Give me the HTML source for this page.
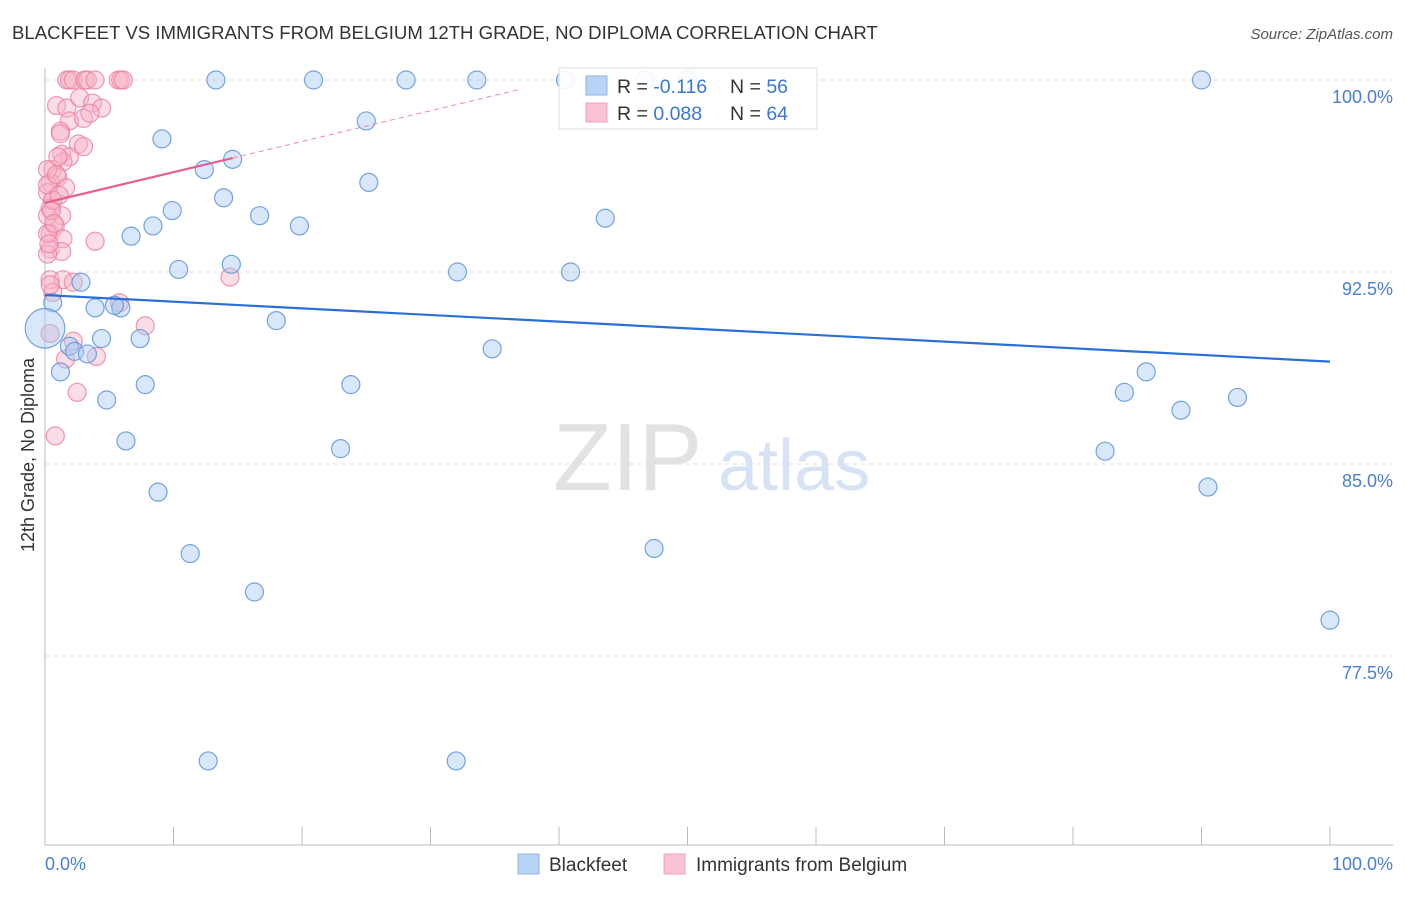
<!DOCTYPE html>
<html><head><meta charset="utf-8"><style>
body{margin:0;background:#fff;font-family:"Liberation Sans",sans-serif;}
svg text{font-family:"Liberation Sans",sans-serif;}
</style></head><body>
<svg id="chart" width="1406" height="892" viewBox="0 0 1406 892" xmlns="http://www.w3.org/2000/svg">
<text x="12" y="39" font-size="18.6" fill="#333">BLACKFEET VS IMMIGRANTS FROM BELGIUM 12TH GRADE, NO DIPLOMA CORRELATION CHART</text>
<text x="1393" y="39" font-size="15" fill="#555" text-anchor="end" font-style="italic">Source: ZipAtlas.com</text>
<g>
<text x="553" y="490" font-family="Liberation Serif" font-size="96" fill="#e2e2e2">ZIP</text>
<text x="718" y="490" font-size="72" fill="#d6e3f5">atlas</text>
</g>
<g id="grid"></g>
<g id="axes">
<line x1="45" y1="68" x2="45" y2="845" stroke="#bbb" stroke-width="1"/>
<line x1="45" y1="845" x2="1393" y2="845" stroke="#bbb" stroke-width="1"/>
</g>
<g id="ticks"></g>
<g id="ylabels"></g>
<text x="45" y="870" font-size="18" fill="#4a7fd4">0.0%</text>
<text x="1393" y="870" font-size="18" fill="#4a7fd4" text-anchor="end">100.0%</text>
<text transform="translate(34,455) rotate(-90)" font-size="18" fill="#333" text-anchor="middle">12th Grade, No Diploma</text>
<g id="pinkpts"></g>
<g id="bluepts"></g>
<g id="trends"></g>
<g>
<rect x="559" y="68" width="258" height="61" fill="#fff" fill-opacity="0.9" stroke="#ddd"/>
<rect x="586" y="76" width="21" height="19" fill="#b9d3f5" stroke="#8fb3e6"/>
<text x="617" y="93" font-size="19.5" fill="#333">R = <tspan fill="#3a78d0">-0.116</tspan></text>
<text x="730" y="93" font-size="19.5" fill="#333">N = <tspan fill="#3a78d0">56</tspan></text>
<rect x="586" y="103" width="21" height="19" fill="#fac3d3" stroke="#f0a0b8"/>
<text x="617" y="120" font-size="19.5" fill="#333">R = <tspan fill="#3a78d0">0.088</tspan></text>
<text x="730" y="120" font-size="19.5" fill="#333">N = <tspan fill="#3a78d0">64</tspan></text>
</g>
<g>
<rect x="518" y="854" width="21" height="20" fill="#b9d3f5" stroke="#8fb3e6"/>
<text x="549" y="871" font-size="19" fill="#333">Blackfeet</text>
<rect x="664" y="854" width="21" height="20" fill="#fac3d3" stroke="#f0a0b8"/>
<text x="696" y="871" font-size="19" fill="#333">Immigrants from Belgium</text>
</g>
</svg>
<script>
const yTicks=[100,92.5,85,77.5];
const yTickLabels=["100.0%","92.5%","85.0%","77.5%"];
const xTicks=[0,10,20,30,40,50,60,70,80,90,100];
const blueX=[13.3,20.9,28.1,33.6,40.5,46.7,50.0,90.0,9.1,25.0,12.4,14.6,25.2,13.9,9.9,16.7,43.6,8.4,6.7,19.8,10.4,14.5,32.1,40.9,2.8,0.6,3.9,5.9,5.4,18.0,4.4,7.4,0.0,1.9,2.3,3.3,34.8,1.2,7.8,23.8,85.7,84.0,88.4,92.8,4.8,6.3,23.0,82.5,8.8,90.5,11.3,47.4,16.3,100,12.7,32.0];
const blueY=[100,100,100,100,100,100,100,100,97.7,98.4,96.5,96.9,96.0,95.4,94.9,94.7,94.6,94.3,93.9,94.3,92.6,92.8,92.5,92.5,92.1,91.3,91.1,91.1,91.2,90.6,89.9,89.9,90.3,89.6,89.4,89.3,89.5,88.6,88.1,88.1,88.6,87.8,87.1,87.6,87.5,85.9,85.6,85.5,83.9,84.1,81.5,81.7,80.0,78.9,73.4,73.4];
const blueSize=[1,1,1,1,1,1,1,1,1,1,1,1,1,1,1,1,1,1,1,1,1,1,1,1,1,1,1,1,1,1,1,1,2.2,1,1,1,1,1,1,1,1,1,1,1,1,1,1,1,1,1,1,1,1,1,1,1];
const pinkX=[1.7,1.9,2.2,3.1,3.3,3.9,5.7,5.9,6.1,0.9,1.7,2.7,3.7,4.4,1.9,3.0,3.5,1.2,1.2,2.6,3.0,1.3,1.9,1.4,0.6,1.0,1.6,0.4,0.2,0.6,0.4,1.3,0.8,0.4,1.4,3.9,0.4,1.3,0.2,0.4,1.4,2.2,0.6,5.8,14.4,7.8,0.4,2.2,4.0,1.6,2.5,0.8,0.2,0.2,0.2,0.6,1.0,0.3,0.5,0.2,0.9,0.4,1.1,0.7];
const pinkY=[100,100,100,100,100,100,100,100,100,99.0,98.9,99.3,99.1,98.9,98.4,98.5,98.7,98.0,97.9,97.5,97.4,97.1,97.0,96.8,96.5,96.2,95.8,96.0,95.6,95.3,95.0,94.7,94.3,94.0,93.8,93.7,93.4,93.3,93.2,92.2,92.2,92.1,91.7,91.3,92.3,90.4,90.1,89.8,89.2,89.1,87.8,86.1,94.7,94.0,96.5,95.3,97.0,93.6,94.9,95.9,96.3,92.0,95.5,94.4];
const blueTrend=[91.6,89.0];
const pinkTrend=[95.2,0.12];
const pinkSolidEnd=14.6, pinkDashEnd=37;
const NS="http://www.w3.org/2000/svg";
const xs=v=>45+v*12.85;
const ys=v=>80+(100-v)*25.6;
function mk(tag,attrs,parent){const e=document.createElementNS(NS,tag);for(const k in attrs)e.setAttribute(k,attrs[k]);parent.appendChild(e);return e;}
const grid=document.getElementById('grid'),yl=document.getElementById('ylabels'),tk=document.getElementById('ticks');
yTicks.forEach((t,i)=>{
 const l=mk('line',{x1:45,x2:1393,y1:ys(t),y2:ys(t),stroke:'#ddd','stroke-dasharray':'4,4'},grid);
 
 
 const tx=mk('text',{x:1393,y:ys(t)+23,'font-size':18,fill:'#4a7fd4','text-anchor':'end'},yl);
 tx.textContent=yTickLabels[i];
 
 
});
xTicks.forEach(t=>{
 const l=mk('line',{x1:xs(t),x2:xs(t),y1:827,y2:845,stroke:'#bbb'},tk);
 
 
});
const pg=document.getElementById('pinkpts');
pinkX.forEach((x,i)=>{
 const c=mk('circle',{cx:xs(x),cy:ys(pinkY[i]),r:9,fill:'#f7b3c8','fill-opacity':0.45,stroke:'#ea7fa0','stroke-opacity':0.8,'stroke-width':1.2},pg);
 
 
});
const bg=document.getElementById('bluepts');
blueX.forEach((x,i)=>{
 const c=mk('circle',{cx:xs(x),cy:ys(blueY[i]),r:9*blueSize[i],fill:'#a9c9f2','fill-opacity':0.45,stroke:'#5f94dc','stroke-opacity':0.85,'stroke-width':1.2},bg);
 
 
});
const tg=document.getElementById('trends');
const pt=x=>pinkTrend[0]+pinkTrend[1]*x;
let l1=mk('line',{x1:xs(0),y1:ys(blueTrend[0]),x2:xs(100),y2:ys(blueTrend[1]),stroke:'#2a6fd6','stroke-width':2.2},tg);


let l2=mk('line',{x1:xs(pinkSolidEnd),y1:ys(pt(pinkSolidEnd)),x2:xs(pinkDashEnd),y2:ys(pt(pinkDashEnd)),stroke:'#ec8aa8','stroke-width':1,'stroke-dasharray':'5,4'},tg);


let l3=mk('line',{x1:xs(0),y1:ys(pt(0)),x2:xs(pinkSolidEnd),y2:ys(pt(pinkSolidEnd)),stroke:'#e5608a','stroke-width':2.2},tg);


</script>
</body></html>
